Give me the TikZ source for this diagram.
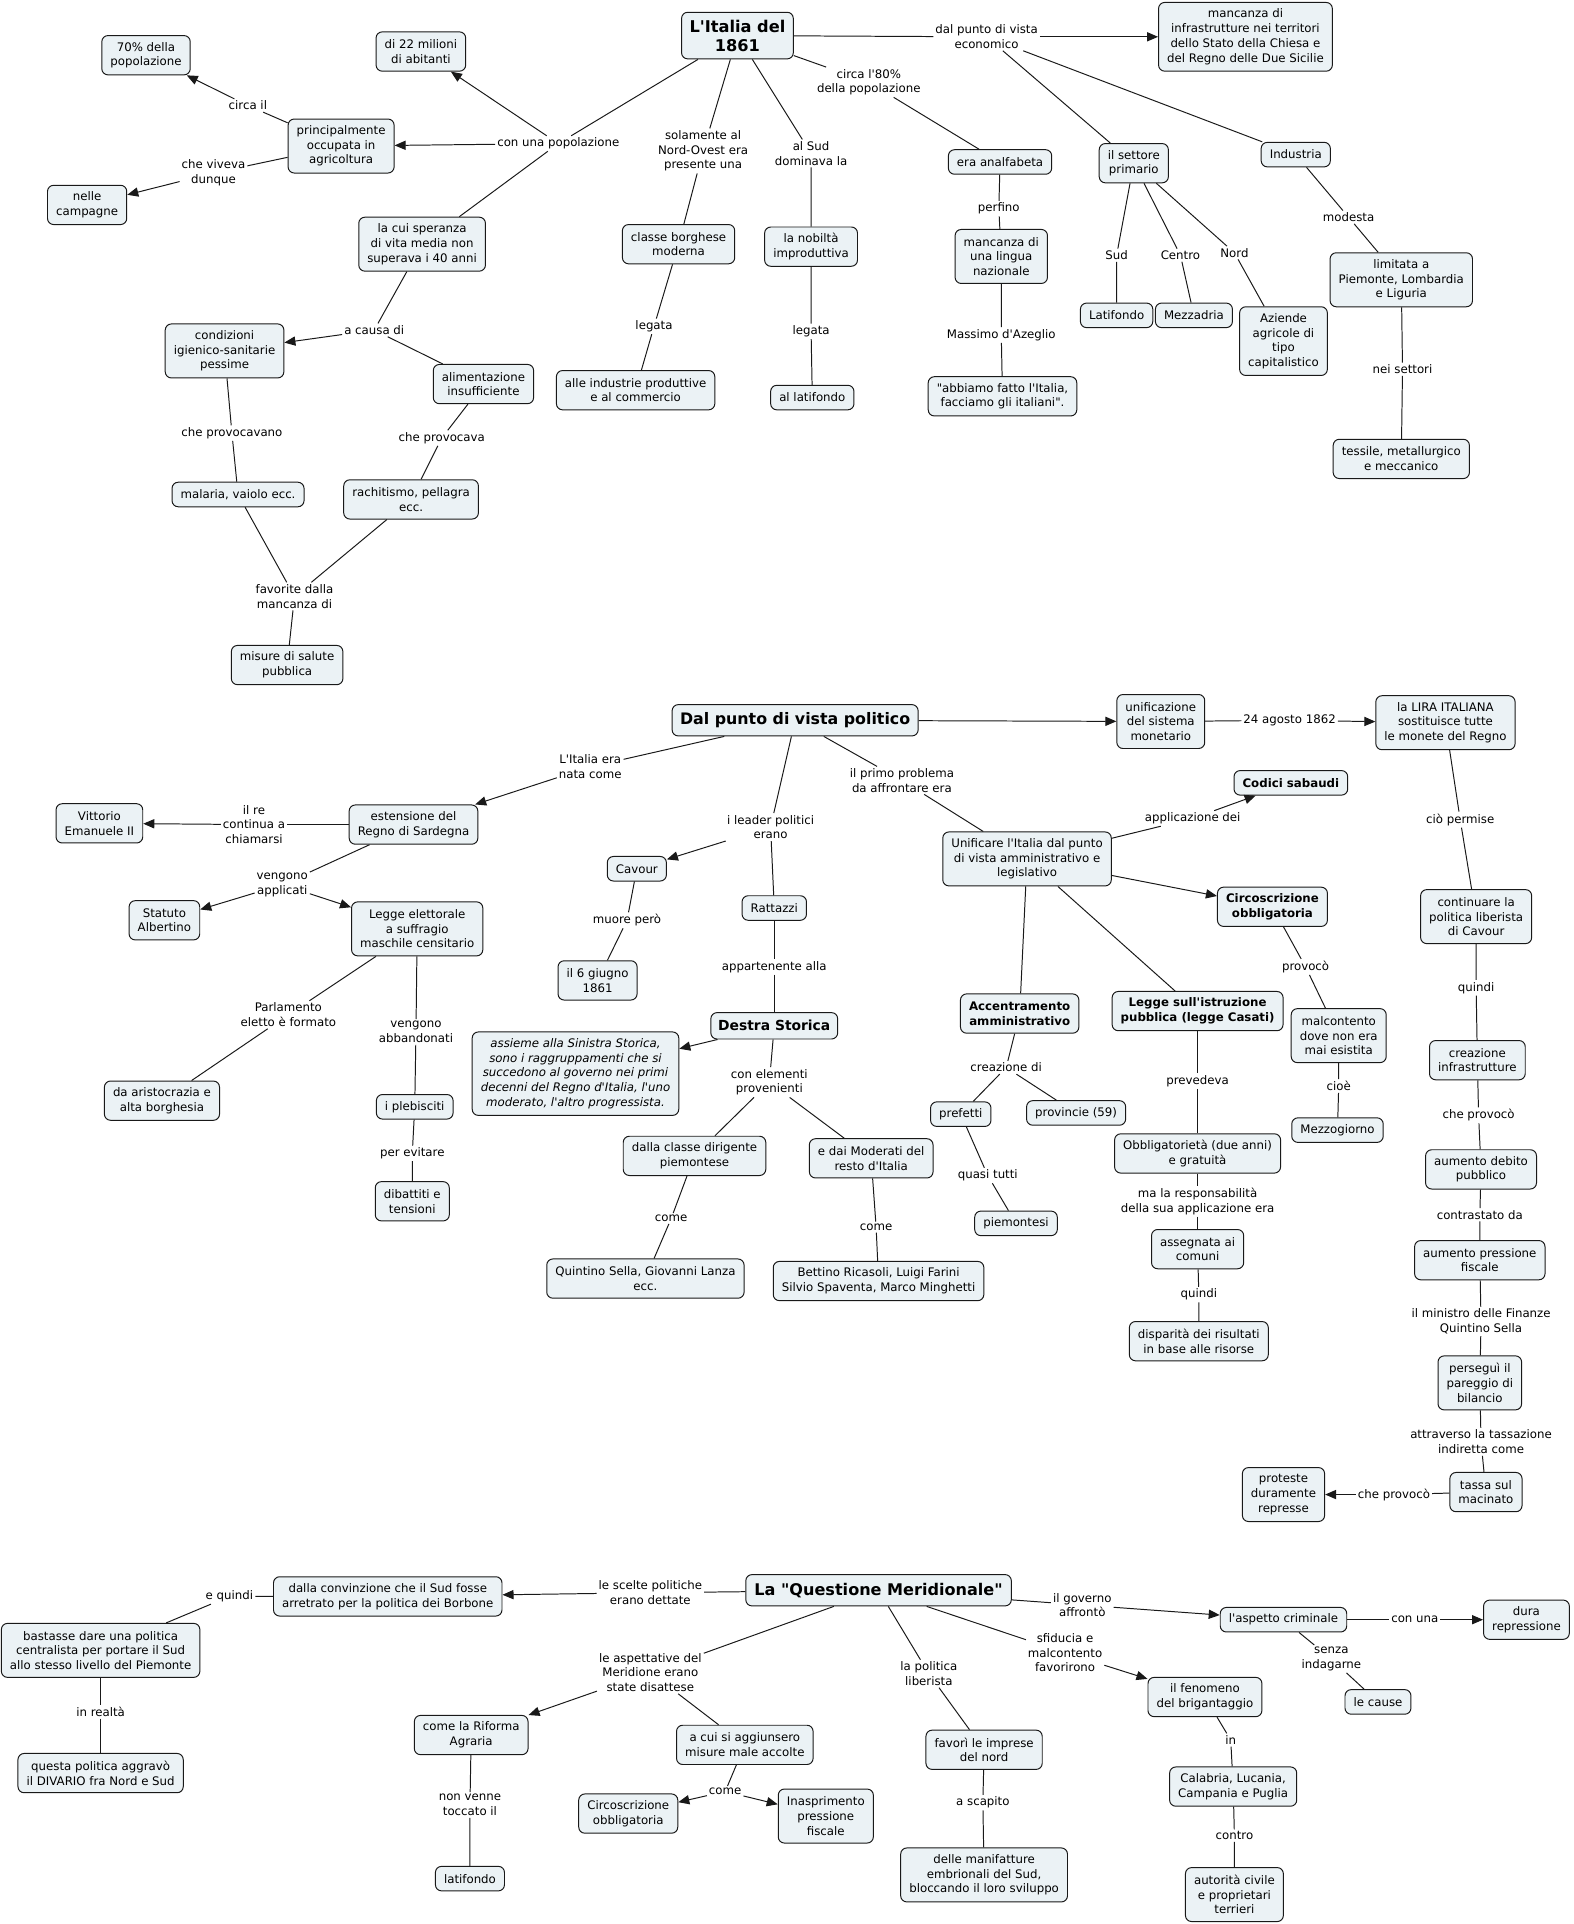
\documentclass[tikz,border=0pt]{standalone}
\usepackage{fontspec}
\setmainfont{DejaVu Sans}[Ligatures=TeXOff]
\usetikzlibrary{arrows.meta}
\definecolor{boxfill}{RGB}{235,242,245}
\newcommand{\fsn}{\fontsize{9.6}{12}\selectfont}
\tikzset{
  box/.style={draw=black!90, line width=0.8pt, fill=boxfill, rounded corners=5pt, align=center, inner xsep=7pt, inner ysep=0pt, font=\fsn, minimum height={#1*12pt+8pt}},
  box/.default=1,
  bbox/.style={box=#1, font=\fsn\bfseries},
  bbox/.default=1,
  lab/.style={align=center, inner sep=1.5pt, font=\fsn},
  conn/.style={line width=0.8pt, draw=black!90},
  arr/.style={conn, -{Triangle[length=9pt,width=7.5pt]}},
}
\begin{document}
\begin{tikzpicture}[x=1pt,y=-1pt]
\fill[white] (0,0) rectangle (1282,1568);
\useasboundingbox (0,0) rectangle (1282,1568);

% ================= Section 1 =================
\node[box, font=\fontsize{13.2}{15.5}\selectfont\bfseries, minimum height=38pt, inner xsep=6.5pt] (it) at (601,29) {L'Italia del\\1861};
\node[box=2] (abit) at (343,42) {di 22 milioni\\di abitanti};
\node[box=2] (p70) at (119,45) {70\% della\\popolazione};
\node[box=3] (princ) at (278,119) {principalmente\\occupata in\\agricoltura};
\node[box=2] (camp) at (71,167) {nelle\\campagne};
\node[box=3] (sper) at (344,199) {la cui speranza\\di vita media non\\superava i 40 anni};
\node[box=3] (cond) at (183,286) {condizioni\\igienico-sanitarie\\pessime};
\node[box=2] (alim) at (394,313) {alimentazione\\insufficiente};
\node[box] (mal) at (194,403) {malaria, vaiolo ecc.};
\node[box=2] (rach) at (335,407) {rachitismo, pellagra\\ecc.};
\node[box=2] (mis) at (234,542) {misure di salute\\pubblica};
\node[box=2] (borg) at (553,199) {classe borghese\\moderna};
\node[box=2] (ind) at (518,318) {alle industrie produttive\\e al commercio};
\node[box=2] (nob) at (661,201) {la nobiltà\\improduttiva};
\node[box] (lat1) at (662,324) {al latifondo};
\node[box] (anal) at (815,132) {era analfabeta};
\node[box=3] (ling) at (816,209) {mancanza di\\una lingua\\nazionale};
\node[box=2] (azeg) at (817,323) {"abbiamo fatto l'Italia,\\facciamo gli italiani".};
\node[box=4] (infr) at (1015,30) {mancanza di\\infrastrutture nei territori\\dello Stato della Chiesa e\\del Regno delle Due Sicilie};
\node[box=2] (sett) at (924,133) {il settore\\primario};
\node[box] (indu) at (1056,126) {Industria};
\node[box] (latf) at (910,257) {Latifondo};
\node[box] (mezz) at (973,257) {Mezzadria};
\node[box=4] (azie) at (1046,278) {Aziende\\agricole di\\tipo\\capitalistico};
\node[box=3] (limi) at (1142,228) {limitata a\\Piemonte, Lombardia\\e Liguria};
\node[box=2] (tess) at (1142,374) {tessile, metallurgico\\e meccanico};

\node[lab] (la) at (455,117) {con una popolazione};
\node[lab] (lb) at (202,86) {circa il};
\node[lab] (lc) at (174,141) {che viveva\\dunque};
\node[lab] (ld) at (305,269) {a causa di};
\node[lab] (le) at (189,353) {che provocavano};
\node[lab] (lf) at (360,357) {che provocava};
\node[lab] (lg) at (240,486) {favorite dalla\\mancanza di};
\node[lab] (lh) at (573,123) {solamente al\\Nord-Ovest era\\presente una};
\node[lab] (li) at (533,266) {legata};
\node[lab] (lj) at (661,125) {al Sud\\dominava la};
\node[lab] (lk) at (661,270) {legata};
\node[lab] (ll) at (708,67) {circa l'80\%\\della popolazione};
\node[lab] (lm) at (814,170) {perfino};
\node[lab] (ln) at (816,273) {Massimo d'Azeglio};
\node[lab] (lo) at (804,30) {dal punto di vista\\economico};
\node[lab] (lp) at (910,208) {Sud};
\node[lab] (lq) at (962,208) {Centro};
\node[lab] (lr) at (1006,206) {Nord};
\node[lab] (ls) at (1099,177) {modesta};
\node[lab] (lt) at (1143,301) {nei settori};

\draw[conn] (it) -- (la);
\draw[arr] (la) -- (abit);
\draw[arr] (la) -- (princ);
\draw[conn] (la) -- (sper);
\draw[conn] (princ) -- (lb); \draw[arr] (lb) -- (p70);
\draw[conn] (princ) -- (lc); \draw[arr] (lc) -- (camp);
\draw[conn] (sper) -- (ld); \draw[arr] (ld) -- (cond); \draw[conn] (ld) -- (alim);
\draw[conn] (cond) -- (le) -- (mal);
\draw[conn] (alim) -- (lf) -- (rach);
\draw[conn] (mal) -- (lg); \draw[conn] (rach) -- (lg); \draw[conn] (lg) -- (mis);
\draw[conn] (it) -- (lh) -- (borg);
\draw[conn] (borg) -- (li) -- (ind);
\draw[conn] (it) -- (lj) -- (nob);
\draw[conn] (nob) -- (lk) -- (lat1);
\draw[conn] (it) -- (ll) -- (anal);
\draw[conn] (anal) -- (lm) -- (ling);
\draw[conn] (ling) -- (ln) -- (azeg);
\draw[conn] (it) -- (lo); \draw[arr] (lo) -- (infr);
\draw[conn] (lo) -- (sett); \draw[conn] (lo) -- (indu);
\draw[conn] (sett) -- (lp) -- (latf);
\draw[conn] (sett) -- (lq) -- (mezz);
\draw[conn] (sett) -- (lr) -- (azie);
\draw[conn] (indu) -- (ls) -- (limi);
\draw[conn] (limi) -- (lt) -- (tess);

% ================= Section 2 =================
\node[box, font=\fontsize{12.9}{15.5}\selectfont\bfseries, minimum height=25.5pt, inner xsep=6.5pt] (pol) at (648,587) {Dal punto di vista politico};
\node[box=3] (uni) at (946,588) {unificazione\\del sistema\\monetario};
\node[box=3] (lira) at (1178,589) {la LIRA ITALIANA\\sostituisce tutte\\le monete del Regno};
\node[bbox] (cod) at (1052,638) {Codici sabaudi};
\node[box=3] (unif) at (837,700) {Unificare l'Italia dal punto\\di vista amministrativo e\\legislativo};
\node[bbox=2] (circ) at (1037,739) {Circoscrizione\\obbligatoria};
\node[box=2] (est) at (337,672) {estensione del\\Regno di Sardegna};
\node[box=2] (vitt) at (81,671) {Vittorio\\Emanuele II};
\node[box=2] (stat) at (134,750) {Statuto\\Albertino};
\node[box=3] (legg) at (340,757) {Legge elettorale\\a suffragio\\maschile censitario};
\node[box=2] (aris) at (132,897) {da aristocrazia e\\alta borghesia};
\node[box] (pleb) at (338,902) {i plebisciti};
\node[box=2] (dib) at (336,979) {dibattiti e\\tensioni};
\node[box] (cav) at (519,708) {Cavour};
\node[box] (ratt) at (631,740) {Rattazzi};
\node[box=2] (giug) at (487,799) {il 6 giugno\\1861};
\node[box, font=\fontsize{11.3}{13.5}\selectfont\bfseries, minimum height=21.5pt, inner xsep=6pt] (destra) at (631,836) {Destra Storica};
\node[box=5, font=\fsn\itshape, inner xsep=7pt] (ital) at (469,875) {assieme alla Sinistra Storica,\\sono i raggruppamenti che si\\succedono al governo nei primi\\decenni del Regno d'Italia, l'uno\\moderato, l'altro progressista.};
\node[box=2] (dirig) at (566,942) {dalla classe dirigente\\piemontese};
\node[box=2] (mode) at (710,944) {e dai Moderati del\\resto d'Italia};
\node[box=2] (sell) at (526,1042) {Quintino Sella, Giovanni Lanza\\ecc.};
\node[box=2] (rica) at (716,1044) {Bettino Ricasoli, Luigi Farini\\Silvio Spaventa, Marco Minghetti};
\node[bbox=2] (acc) at (831,826) {Accentramento\\amministrativo};
\node[bbox=2] (cas) at (976,824) {Legge sull'istruzione\\pubblica (legge Casati)};
\node[box] (pref) at (783,908) {prefetti};
\node[box] (prov) at (877,907) {provincie (59)};
\node[box] (piem) at (828,997) {piemontesi};
\node[box=2] (obbl) at (976,940) {Obbligatorietà (due anni)\\e gratuità};
\node[box=2] (ass) at (976,1018) {assegnata ai\\comuni};
\node[box=2] (disp) at (977,1093) {disparità dei risultati\\in base alle risorse};
\node[box=3] (malc) at (1091,844) {malcontento\\dove non era\\mai esistita};
\node[box] (mezzo) at (1090,921) {Mezzogiorno};
\node[box=3] (cont) at (1203,747) {continuare la\\politica liberista\\di Cavour};
\node[box=2] (infra) at (1204,864) {creazione\\infrastrutture};
\node[box=2] (debi) at (1207,953) {aumento debito\\pubblico};
\node[box=2] (press) at (1206,1027) {aumento pressione\\fiscale};
\node[box=3] (pare) at (1206,1127) {perseguì il\\pareggio di\\bilancio};
\node[box=2] (tassa) at (1211,1216) {tassa sul\\macinato};
\node[box=3] (prot) at (1046,1218) {proteste\\duramente\\represse};

\node[lab] (m1) at (1051,587) {24 agosto 1862};
\node[lab] (m2) at (972,667) {applicazione dei};
\node[lab] (m3) at (735,636) {il primo problema\\da affrontare era};
\node[lab] (m4) at (481,625) {L'Italia era\\nata come};
\node[lab] (m5) at (207,672) {il re\\continua a\\chiamarsi};
\node[lab] (m6) at (230,721) {vengono\\applicati};
\node[lab] (m7) at (235,827) {Parlamento\\eletto è formato};
\node[lab] (m8) at (339,841) {vengono\\abbandonati};
\node[lab] (m9) at (336,940) {per evitare};
\node[lab] (m10) at (628,674) {i leader politici\\erano};
\node[lab] (m11) at (511,750) {muore però};
\node[lab] (m12) at (631,788) {appartenente alla};
\node[lab] (m13) at (627,882) {con elementi\\provenienti};
\node[lab] (m14) at (547,993) {come};
\node[lab] (m15) at (714,1000) {come};
\node[lab] (m16) at (820,870) {creazione di};
\node[lab] (m17) at (805,958) {quasi tutti};
\node[lab] (m18) at (976,881) {prevedeva};
\node[lab] (m19) at (976,979) {ma la responsabilità\\della sua applicazione era};
\node[lab] (m20) at (977,1055) {quindi};
\node[lab] (m21) at (1064,788) {provocò};
\node[lab] (m22) at (1091,885) {cioè};
\node[lab] (m23) at (1190,668) {ciò permise};
\node[lab] (m24) at (1203,805) {quindi};
\node[lab] (m25) at (1205,909) {che provocò};
\node[lab] (m26) at (1206,990) {contrastato da};
\node[lab] (m27) at (1207,1077) {il ministro delle Finanze\\Quintino Sella};
\node[lab] (m28) at (1207,1175) {attraverso la tassazione\\indiretta come};
\node[lab] (m29) at (1136,1218) {che provocò};

\draw[arr] (pol) -- (uni);
\draw[conn] (uni) -- (m1); \draw[arr] (m1) -- (lira);
\draw[conn] (lira) -- (m23) -- (cont);
\draw[conn] (cont) -- (m24) -- (infra);
\draw[conn] (infra) -- (m25) -- (debi);
\draw[conn] (debi) -- (m26) -- (press);
\draw[conn] (press) -- (m27) -- (pare);
\draw[conn] (pare) -- (m28) -- (tassa);
\draw[conn] (tassa) -- (m29); \draw[arr] (m29) -- (prot);
\draw[conn] (pol) -- (m3) -- (unif);
\draw[conn] (unif) -- (m2); \draw[arr] (m2) -- (cod);
\draw[arr] (unif) -- (circ);
\draw[conn] (circ) -- (m21) -- (malc);
\draw[conn] (malc) -- (m22) -- (mezzo);
\draw[conn] (unif) -- (acc);
\draw[conn] (unif) -- (cas);
\draw[conn] (acc) -- (m16); \draw[conn] (m16) -- (pref); \draw[conn] (m16) -- (prov);
\draw[conn] (pref) -- (m17) -- (piem);
\draw[conn] (cas) -- (m18) -- (obbl);
\draw[conn] (obbl) -- (m19) -- (ass);
\draw[conn] (ass) -- (m20) -- (disp);
\draw[conn] (pol) -- (m4); \draw[arr] (m4) -- (est);
\draw[conn] (est) -- (m5); \draw[arr] (m5) -- (vitt);
\draw[conn] (est) -- (m6); \draw[arr] (m6) -- (stat); \draw[arr] (m6) -- (legg);
\draw[conn] (legg) -- (m7) -- (aris);
\draw[conn] (legg) -- (m8) -- (pleb);
\draw[conn] (pleb) -- (m9) -- (dib);
\draw[conn] (pol) -- (m10); \draw[arr] (m10) -- (cav); \draw[conn] (m10) -- (ratt);
\draw[conn] (cav) -- (m11) -- (giug);
\draw[conn] (ratt) -- (m12) -- (destra);
\draw[arr] (destra) -- (ital);
\draw[conn] (destra) -- (m13); \draw[conn] (m13) -- (dirig); \draw[conn] (m13) -- (mode);
\draw[conn] (dirig) -- (m14) -- (sell);
\draw[conn] (mode) -- (m15) -- (rica);

% ================= Section 3 =================
\node[box, font=\fontsize{13.1}{15.5}\selectfont\bfseries, minimum height=25.5pt, inner xsep=7pt] (qm) at (716,1296) {La "Questione Meridionale"};
\node[box=2] (conv) at (316,1301) {dalla convinzione che il Sud fosse\\arretrato per la politica dei Borbone};
\node[box=3] (bast) at (82,1345) {bastasse dare una politica\\centralista per portare il Sud\\allo stesso livello del Piemonte};
\node[box=2] (diva) at (82,1445) {questa politica aggravò\\il DIVARIO fra Nord e Sud};
\node[box=2] (rif) at (384,1414) {come la Riforma\\Agraria};
\node[box] (latq) at (383,1531) {latifondo};
\node[box=2] (acui) at (607,1422) {a cui si aggiunsero\\misure male accolte};
\node[box=2] (circ2) at (512,1478) {Circoscrizione\\obbligatoria};
\node[box=3] (inas) at (673,1480) {Inasprimento\\pressione\\fiscale};
\node[box=2] (fav) at (802,1426) {favorì le imprese\\del nord};
\node[box=3] (manif) at (802,1528) {delle manifatture\\embrionali del Sud,\\bloccando il loro sviluppo};
\node[box=2] (brig) at (982,1383) {il fenomeno\\del brigantaggio};
\node[box=2] (cala) at (1005,1456) {Calabria, Lucania,\\Campania e Puglia};
\node[box=3] (auto) at (1006,1544) {autorità civile\\e proprietari\\terrieri};
\node[box] (crim) at (1046,1320) {l'aspetto criminale};
\node[box=2] (dura) at (1244,1320) {dura\\repressione};
\node[box] (caus) at (1123,1387) {le cause};

\node[lab] (n1) at (530,1298) {le scelte politiche\\erano dettate};
\node[lab] (n2) at (187,1301) {e quindi};
\node[lab] (n3) at (82,1395) {in realtà};
\node[lab] (n4) at (530,1363) {le aspettative del\\Meridione erano\\state disattese};
\node[lab] (n5) at (383,1471) {non venne\\toccato il};
\node[lab] (n6) at (591,1460) {come};
\node[lab] (n7) at (757,1364) {la politica\\liberista};
\node[lab] (n8) at (801,1469) {a scapito};
\node[lab] (n9) at (868,1347) {sfiducia e\\malcontento\\favorirono};
\node[lab] (n10) at (882,1308) {il governo\\affrontò};
\node[lab] (n11) at (1153,1320) {con una};
\node[lab] (n12) at (1085,1352) {senza\\indagarne};
\node[lab] (n13) at (1003,1418) {in};
\node[lab] (n14) at (1006,1496) {contro};

\draw[conn] (qm) -- (n1); \draw[arr] (n1) -- (conv);
\draw[conn] (conv) -- (n2) -- (bast);
\draw[conn] (bast) -- (n3) -- (diva);
\draw[conn] (qm) -- (n4); \draw[arr] (n4) -- (rif); \draw[conn] (n4) -- (acui);
\draw[conn] (rif) -- (n5) -- (latq);
\draw[conn] (acui) -- (n6); \draw[arr] (n6) -- (circ2); \draw[arr] (n6) -- (inas);
\draw[conn] (qm) -- (n7) -- (fav);
\draw[conn] (fav) -- (n8) -- (manif);
\draw[conn] (qm) -- (n9); \draw[arr] (n9) -- (brig);
\draw[conn] (brig) -- (n13) -- (cala);
\draw[conn] (cala) -- (n14) -- (auto);
\draw[conn] (qm) -- (n10); \draw[arr] (n10) -- (crim);
\draw[conn] (crim) -- (n11); \draw[arr] (n11) -- (dura);
\draw[conn] (crim) -- (n12) -- (caus);
\end{tikzpicture}
\end{document}
